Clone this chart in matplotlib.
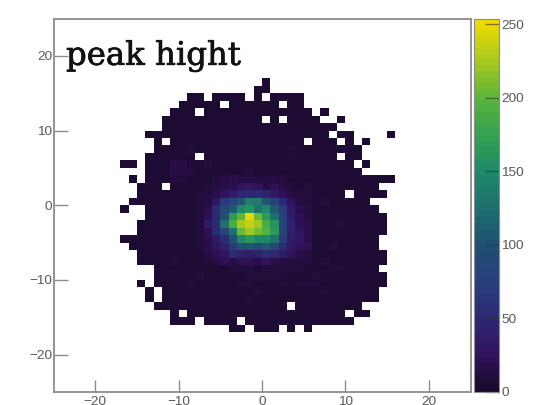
import numpy as np
import matplotlib
matplotlib.use("Agg")
import matplotlib.pyplot as plt
import matplotlib.patheffects as pe
from matplotlib.colors import LinearSegmentedColormap

# 1x1 bins, x and y both from -25 to 25
x_edges = np.arange(-25, 26)
y_edges = np.arange(25, -26, -1)

# outer region, one string per row from y=17 down to y=-17, columns start at x=-17
# '.' = empty bin, digit = rough level read off the dark purple shades
# (spaces only group the columns by five)
first_col = 8
first_row = 8
rows = [
    "..... ..... ..... ..1.. ..... ..... ...",
    "..... ..... ..... .11.. ..... ..... ...",
    "..... ...11 .1111 .1.11 11... ..... ...",
    "..... ..112 11.11 2111. 11... ..... ...",
    "..... .121. 11122 11121 112.1 ..... ...",
    "..... 11121 21221 21.1. 1211. .1... ...",
    "..... 12112 21112 21212 11221 1.... ...",
    "...11 12112 12112 22122 21112 .11.. ..1",
    "....1 .2122 11222 21221 22.12 1.1.1 ...",
    "....1 11232 11222 22112 32112 1112. ...",
    "...11 2211. 22221 22212 32221 1.11. ...",
    "11.11 14412 31221 21221 22212 211.1 ...",
    "...11 24432 22222 32222 22222 2211. ...",
    ".1.11 13322 11212 22212 21222 11111 111",
    "..111 .2212 22222 32222 22222 22211 1..",
    "..112 12222 22222 22222 22222 12.12 11.",
    ".1212 22222 22222 22222 22223 22211 ...",
    "1..11 22222 22222 22222 22222 22222 1..",
    "...11 11222 22222 22222 22222 22121 11.",
    "..111 12222 22222 22222 22222 23211 11.",
    "..111 12222 22222 22222 22222 21211 11.",
    "11211 11222 22222 22222 22222 22122 1..",
    ".1112 12222 22222 22222 22222 32211 1..",
    "..122 11222 22222 22222 22222 22122 11.",
    "..111 13222 22222 22222 22223 11111 11.",
    "....1 12222 22233 32333 33222 33211 1..",
    "....1 21223 22212 33333 22232 12111 11.",
    "..1.1 11232 21223 31223 23332 12111 11.",
    "...1. 11211 22212 13122 11223 21112 1..",
    "...1. 12121 11112 31211 21112 11111 1..",
    "....1 11111 21111 12111 .1111 2221. ...",
    "..... .1.11 12111 11111 11111 11.11 ...",
    "..... .111. 1211. 11111 11111 111.. ...",
    "..... ..... ...11 .111. 1.1.. ..... ...",
]
level_values = {"1": 4, "2": 7, "3": 11, "4": 15}

# central peak, x=-8 to x=5 and y=4 down to y=-8
peak_col = 17
peak_row = 21
peak = [
    [6, 6, 8, 12, 16, 14, 14, 12, 8, 12, 10, 6, 6, 6],
    [7, 8, 10, 16, 18, 26, 30, 26, 14, 20, 14, 8, 7, 8],
    [8, 10, 16, 26, 38, 44, 50, 50, 44, 32, 22, 14, 10, 10],
    [8, 12, 30, 70, 80, 105, 140, 135, 105, 80, 50, 24, 14, 10],
    [8, 16, 48, 88, 110, 150, 160, 130, 150, 110, 70, 35, 18, 12],
    [8, 20, 50, 100, 170, 200, 250, 205, 170, 125, 75, 38, 20, 14],
    [10, 35, 55, 125, 190, 225, 235, 225, 190, 160, 80, 42, 22, 16],
    [10, 22, 55, 85, 130, 205, 225, 210, 195, 165, 85, 42, 28, 18],
    [8, 18, 34, 55, 100, 150, 165, 150, 150, 130, 70, 38, 28, 18],
    [8, 16, 28, 42, 68, 100, 105, 95, 110, 90, 55, 35, 25, 22],
    [6, 12, 20, 30, 55, 40, 36, 42, 55, 48, 36, 26, 18, 12],
    [6, 10, 14, 20, 12, 20, 22, 18, 24, 18, 12, 10, 10, 14],
]

x_ticks = [-20, -10, 0, 10, 20]
y_ticks = [-20, -10, 0, 10, 20]
z_ticks = [0, 50, 100, 150, 200, 250]
z_max = 254
title = "peak hight"

# fill the histogram
hist = np.full((50, 50), np.nan)
for j, row in enumerate(rows):
    for i, c in enumerate(row.replace(" ", "")):
        if c != ".":
            hist[first_row + j, first_col + i] = level_values[c]
for j, row in enumerate(peak):
    for i, v in enumerate(row):
        hist[peak_row + j, peak_col + i] = v

# palette of the colour bar
stops = [(0, "#1a0a2c"), (25, "#33125f"), (50, "#2c2a72"), (75, "#2a3f7e"),
         (100, "#1f5070"), (125, "#1f6f6e"), (150, "#1e8a68"), (175, "#33a052"),
         (200, "#58b43c"), (225, "#a3c722"), (254, "#f2dc00")]
palette = LinearSegmentedColormap.from_list(
    "bird", [(v / z_max, c) for v, c in stops], N=64)
palette.set_bad("white")

plt.rcParams["font.family"] = ["Liberation Sans", "DejaVu Sans"]
gray = "#8c8c8c"
text_gray = "#585858"

fig = plt.figure(figsize=(5.4, 4.05), dpi=100)
ax = fig.add_axes([53.5 / 540, 13 / 405, 417 / 540, 373.5 / 405])
mesh = ax.pcolormesh(x_edges, y_edges, np.ma.masked_invalid(hist),
                     cmap=palette, vmin=0, vmax=z_max)
ax.set_xlim(-25, 25)
ax.set_ylim(-25, 25)
ax.set_xticks(x_ticks)
ax.set_yticks(y_ticks)
ax.tick_params(axis="x", direction="in", length=9, width=1, color=gray,
               labelcolor=text_gray, labelsize=9.7, pad=3)
ax.tick_params(axis="y", direction="in", length=10, width=1, color=gray,
               labelcolor=text_gray, labelsize=9.7, pad=1)
for s in ax.spines.values():
    s.set_color(gray)
    s.set_linewidth(1.3)

txt = ax.text(-23.5, 18.8, title, family="DejaVu Serif", fontsize=23.3, color="#111111")
txt.set_path_effects([pe.withStroke(linewidth=0.5, foreground="#111111")])

cax = fig.add_axes([473.5 / 540, 13 / 405, 25 / 540, 373.5 / 405])
cb = fig.colorbar(mesh, cax=cax, ticks=z_ticks)
cb.ax.tick_params(direction="in", length=10, width=1, color="#33333399",
                  labelcolor=text_gray, labelsize=9.7, pad=2)
cb.outline.set_edgecolor(gray)
cb.outline.set_linewidth(0.8)

fig.savefig("out.png", dpi=100)
